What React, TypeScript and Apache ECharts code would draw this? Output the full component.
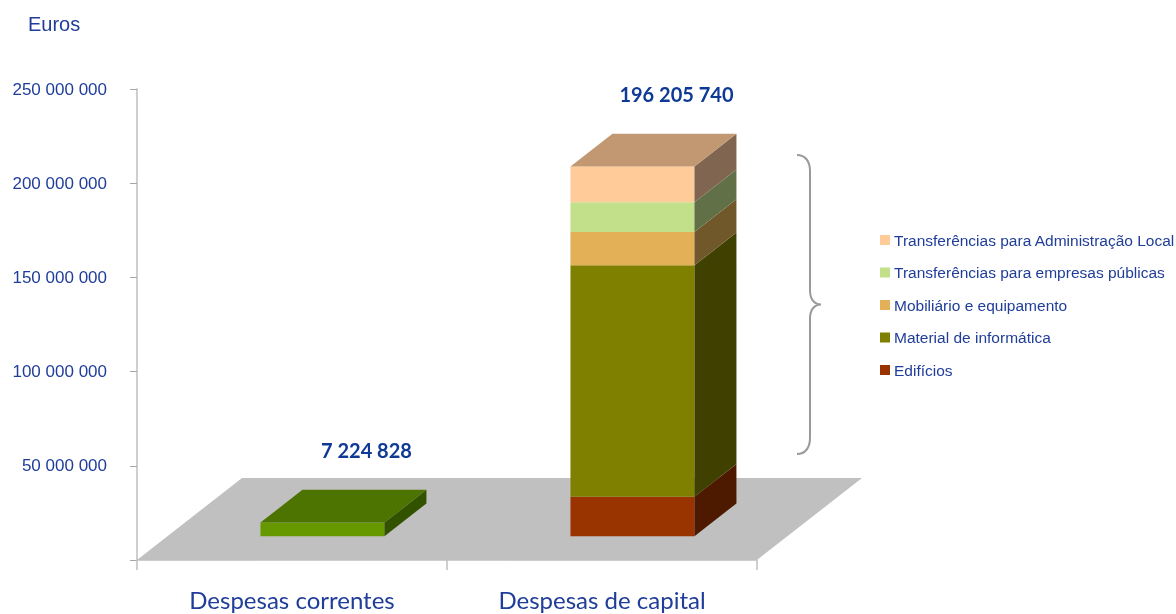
import React, { useEffect, useRef } from 'react';
import * as echarts from 'echarts';

// ---------- data ----------
const categories = ['Despesas correntes', 'Despesas de capital'];
const yTickValues = [0, 50000000, 100000000, 150000000, 200000000, 250000000];
const correntesValue = 7224828;
const capitalNames = [
  'Edifícios',
  'Material de informática',
  'Mobiliário e equipamento',
  'Transferências para empresas públicas',
  'Transferências para Administração Local',
];
const capitalValues = [20900000, 122900000, 17700000, 15800000, 18905740];
const totals = [7224828, 196205740];
const legendOrder = [
  'Transferências para Administração Local',
  'Transferências para empresas públicas',
  'Mobiliário e equipamento',
  'Material de informática',
  'Edifícios',
];

// ---------- styles ----------
const BLUE = '#1F3D99';
const LABEL_BLUE = '#0E3A96';
const FLOOR_DX = 105;
const FLOOR_DY = -82;
const FRONT_T = 0.29;
const BACK_T = 0.69;
const BAR_W = 0.4;
const capitalColors = [
  { front: '#993300', side: '#4D1A00', top: '#7A2900' },
  { front: '#808000', side: '#404000', top: '#666600' },
  { front: '#E3B057', side: '#71582B', top: '#B58C45' },
  { front: '#C2DF8A', side: '#627048', top: '#9BB26E' },
  { front: '#FFCC99', side: '#806650', top: '#C19872' },
];
const correntesColors = { front: '#669900', side: '#335200', top: '#4D7300' };

echarts.graphic.registerShape(
  'brace',
  echarts.graphic.extendPath(
    'M0 0 C8 0 13 6 13 16 L13 135 C13 145 17 149 24 149.5 C17 150 13 154 13 164 L13 283 C13 293 8 299 0 299',
    {}
  )
);

const fmt = (v: number) => String(Math.round(v)).replace(/\B(?=(\d{3})+(?!\d))/g, ' ');

function barRender(colors: any, isTop: boolean) {
  return (params: any, api: any) => {
    const cat = api.value(0);
    const base = api.coord([cat, 0]);
    const p0 = api.coord([cat, api.value(1)]);
    const p1 = api.coord([cat, api.value(2)]);
    const band = api.size([1, 0])[0];
    const w = band * BAR_W;
    const fx = FLOOR_DX * FRONT_T;
    const fy = FLOOR_DY * FRONT_T;
    const dx = FLOOR_DX * (BACK_T - FRONT_T);
    const dy = FLOOR_DY * (BACK_T - FRONT_T);
    const xl = base[0] - w / 2 + fx;
    const xr = base[0] + w / 2 + fx;
    const yb = p0[1] + fy;
    const yt = p1[1] + fy;
    const children: any[] = [
      {
        type: 'polygon',
        shape: { points: [[xl, yb], [xr, yb], [xr, yt], [xl, yt]] },
        style: { fill: colors.front },
      },
      {
        type: 'polygon',
        shape: { points: [[xr, yb], [xr + dx, yb + dy], [xr + dx, yt + dy], [xr, yt]] },
        style: { fill: colors.side },
      },
    ];
    if (isTop) {
      children.push({
        type: 'polygon',
        shape: { points: [[xl, yt], [xr, yt], [xr + dx, yt + dy], [xl + dx, yt + dy]] },
        style: { fill: colors.top },
      });
      children.push({
        type: 'text',
        style: {
          text: fmt(totals[cat]),
          x: xl + w / 2 + 44,
          y: yt + dy - 40,
          align: 'center',
          verticalAlign: 'middle',
          fill: LABEL_BLUE,
          fontFamily: 'Lato',
          fontWeight: 'bold',
          fontSize: 20,
        },
      });
    }
    return { type: 'group', children };
  };
}

function floorRender(params: any, api: any) {
  const c0 = api.coord([0, 0]);
  const band = api.size([1, 0])[0];
  const left = c0[0] - band / 2;
  const right = left + band * categories.length;
  const y = c0[1];
  return {
    type: 'polygon',
    shape: {
      points: [
        [left, y],
        [right, y],
        [right + FLOOR_DX, y + FLOOR_DY],
        [left + FLOOR_DX, y + FLOOR_DY],
      ],
    },
    style: { fill: '#C0C0C0' },
  };
}

export default function App() {
  const ref = useRef<HTMLDivElement>(null);
  useEffect(() => {
    if (!ref.current) return;
    const chart = echarts.init(ref.current, null, { renderer: 'svg' });

    const series: any[] = [
      {
        type: 'custom',
        name: 'floor',
        renderItem: floorRender,
        data: [[0]],
        encode: { x: 0 },
        z: 1,
        silent: true,
      },
      {
        type: 'custom',
        name: categories[0],
        renderItem: barRender(correntesColors, true),
        data: [[0, 0, correntesValue]],
        encode: { x: 0, y: [1, 2] },
        itemStyle: { color: correntesColors.front },
        z: 2,
      },
    ];
    let acc = 0;
    capitalNames.forEach((name, i) => {
      const start = acc;
      acc += capitalValues[i];
      series.push({
        type: 'custom',
        name,
        renderItem: barRender(capitalColors[i], i === capitalNames.length - 1),
        data: [[1, start, acc]],
        encode: { x: 0, y: [1, 2] },
        itemStyle: { color: capitalColors[i].front },
        z: 2,
      });
    });

    chart.setOption({
      animation: false,
      grid: { left: 137, top: 89, width: 620, height: 471, containLabel: false },
      xAxis: {
        type: 'category',
        data: categories,
        z: 5,
        axisLine: { lineStyle: { color: '#BFBFBF', width: 1.5 } },
        axisTick: { show: true, length: 10, lineStyle: { color: '#BFBFBF', width: 1.5 } },
        axisLabel: {
          margin: 27,
          color: BLUE,
          fontFamily: 'Lato',
          fontSize: 24,
        },
      },
      yAxis: {
        type: 'value',
        min: yTickValues[0],
        max: yTickValues[yTickValues.length - 1],
        interval: yTickValues[1] - yTickValues[0],
        z: 5,
        axisLine: { show: true, lineStyle: { color: '#BFBFBF', width: 1.5 } },
        axisTick: { show: true, length: 7, lineStyle: { color: '#A6A6A6', width: 1 } },
        splitLine: { show: false },
        axisLabel: {
          margin: 30,
          color: BLUE,
          fontFamily: 'Liberation Sans',
          fontSize: 17,
          formatter: (v: number) => (v === 0 ? '' : fmt(v)),
        },
      },
      legend: {
        data: legendOrder.map((n) => ({ name: n, icon: 'rect' })),
        orient: 'vertical',
        left: 875,
        top: 227,
        itemWidth: 10,
        itemHeight: 10,
        itemGap: 16.5,
        selectedMode: false,
        textStyle: { color: BLUE, fontFamily: 'Liberation Sans', fontSize: 15.5, padding: [0, 0, 0, -1] },
      },
      graphic: [
        {
          type: 'text',
          left: 28,
          top: 14,
          style: { text: 'Euros', fill: BLUE, fontFamily: 'Liberation Sans', fontSize: 20 },
        },
        {
          type: 'brace',
          x: 797,
          y: 155,
          style: { fill: 'none', stroke: '#9A9A9A', lineWidth: 2 },
        },
      ],
      series,
    });
    return () => chart.dispose();
  }, []);
  return <div ref={ref} style={{ position: 'fixed', left: 0, top: 0, width: 1176, height: 614 }} />;
}
